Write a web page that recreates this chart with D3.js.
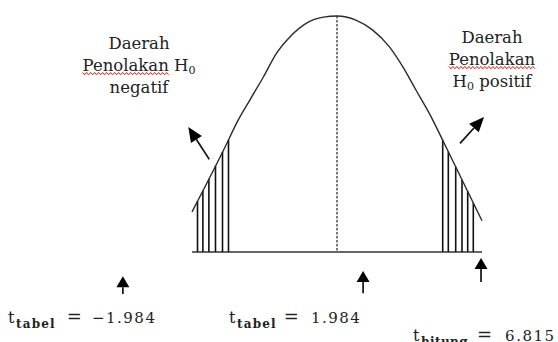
<!DOCTYPE html>
<html>
<head>
<meta charset="utf-8">
<script src="https://cdn.jsdelivr.net/npm/d3@7"></script>
<style>
  body { margin: 0; background: #fff; }
  svg { display: block; }
  text { font-family: "DejaVu Serif", "Liberation Serif", serif; fill: #222; }
</style>
</head>
<body>
<svg width="558" height="342"></svg>
<script>
// curve of the t sketch (t units, density)
var curveT = [-3.0, -2.28, -2.08, -1.80, -1.52, -1.25, -0.97, -0.63, -0.28, 0.0, 0.39, 0.74, 1.08, 1.36, 1.63, 1.91, 2.19, 3.0];
var curveD = [0.068, 0.184, 0.218, 0.258, 0.297, 0.337, 0.365, 0.388, 0.398, 0.400, 0.393, 0.376, 0.348, 0.314, 0.275, 0.235, 0.189, 0.053];

// hatching in the two rejection tails
var hatchLeft = [-2.886, -2.775, -2.651, -2.514, -2.369, -2.245];
var hatchRight = [2.187, 2.303, 2.456, 2.586, 2.704, 2.820];

// labels under the chart
var labelSubs = ['tabel', 'tabel', 'hitung'];
var labelValues = ['\u22121.984', '1.984', '6.815'];
// where the up arrows point (t units)
var markT = [-4.43, 0.54, 2.98];

var svg = d3.select('svg');
var x = d3.scaleLinear().domain([-3, 3]).range([192, 482]);
var y = d3.scaleLinear().domain([0, 0.4]).range([252, 16]);
// piecewise read-off of the curve, used for the hatch tops
var curveAt = d3.scaleLinear().domain(curveT).range(curveD);

// baseline
svg.append('line')
  .attr('x1', x(-3)).attr('x2', x(3))
  .attr('y1', y(0)).attr('y2', y(0))
  .attr('stroke', '#333').attr('stroke-width', 1.4);

// dashed centre line
svg.append('line')
  .attr('x1', x(0)).attr('x2', x(0))
  .attr('y1', y(0.4)).attr('y2', y(0))
  .attr('stroke', '#222').attr('stroke-width', 1.2)
  .attr('stroke-dasharray', '2.5,1.5');

// hatching
svg.selectAll('line.hatch')
  .data(hatchLeft.concat(hatchRight))
  .enter().append('line')
  .attr('class', 'hatch')
  .attr('x1', d => x(d)).attr('x2', d => x(d))
  .attr('y1', y(0)).attr('y2', d => y(curveAt(d)))
  .attr('stroke', '#111').attr('stroke-width', 1.6);

// curve
var line = d3.line()
  .x((d, i) => x(curveT[i]))
  .y(d => y(d))
  .curve(d3.curveMonotoneX);

svg.append('path')
  .attr('d', line(curveD))
  .attr('fill', 'none')
  .attr('stroke', '#2a2a2a').attr('stroke-width', 1.4);

// arrows: tail -> tip, in chart units
function arrow(t1, d1, t2, d2, len, wid) {
  var x1 = x(t1), y1 = y(d1), x2 = x(t2), y2 = y(d2);
  var dx = x2 - x1, dy = y2 - y1, n = Math.sqrt(dx * dx + dy * dy);
  var ux = dx / n, uy = dy / n;
  var bx = x2 - ux * len, by = y2 - uy * len;
  svg.append('line')
    .attr('x1', x1).attr('y1', y1).attr('x2', bx).attr('y2', by)
    .attr('stroke', '#111').attr('stroke-width', 1.7);
  svg.append('path')
    .attr('d', 'M' + x2 + ',' + y2 +
      'L' + (bx - uy * wid / 2) + ',' + (by + ux * wid / 2) +
      'L' + (bx + uy * wid / 2) + ',' + (by - ux * wid / 2) + 'Z')
    .attr('fill', '#000');
}

arrow(-2.642, 0.157, -3.077, 0.212, 15, 13);
arrow(2.545, 0.184, 3.042, 0.229, 15, 13);

var markTip = [-0.041, -0.032, -0.010];
var markTail = [-0.071, -0.070, -0.051];
markT.forEach(function(t, i) {
  arrow(t, markTail[i], t, markTip[i], 11, 13);
});

// red wavy spell-check underline
function squiggle(x1, x2, yy) {
  var pts = [];
  for (var px = x1, k = 0; px <= x2; px += 2, k++) pts.push([px, yy + (k % 2 ? 1.2 : -1.2)]);
  svg.append('path')
    .attr('d', d3.line()(pts))
    .attr('fill', 'none')
    .attr('stroke', '#e0201c').attr('stroke-width', 1);
}

// region captions
function caption(cx, y0, lines) {
  lines.forEach(function(l, i) {
    var row = svg.append('text')
      .attr('x', cx).attr('y', y0 + i * 21.8)
      .attr('text-anchor', 'middle')
      .style('font-size', '16.5px');
    l.forEach(function(part) {
      row.append('tspan')
        .text(part.s)
        .attr('dy', part.sub ? 3 : (part.back ? -3 : null))
        .style('font-size', part.sub ? '11px' : null);
    });
    if (l[0].s.indexOf('Penolakan') === 0) {
      var w = row.node().getSubStringLength(0, 9);
      var x0 = row.node().getStartPositionOfChar(0).x;
      squiggle(x0, x0 + w, y0 + i * 21.8 + 2.5);
    }
  });
}

caption(139, 49.3, [
  [{ s: 'Daerah' }],
  [{ s: 'Penolakan H' }, { s: '0', sub: true }],
  [{ s: 'negatif' }]
]);
caption(492, 43.3, [
  [{ s: 'Daerah' }],
  [{ s: 'Penolakan' }],
  [{ s: 'H' }, { s: '0', sub: true }, { s: ' positif', back: true }]
]);

// bottom labels t_sub = value
var labelX = [8, 229, 413];
var labelY = [323, 323, 341];
var gapEq = [11, 7, 9];
var gapVal = [10, 12, 13];

labelSubs.forEach(function(sub, i) {
  var txt = svg.append('text')
    .attr('x', labelX[i]).attr('y', labelY[i])
    .style('font-size', '16px');
  txt.append('tspan').text('t');
  txt.append('tspan').text(sub)
    .attr('dx', 1.5).attr('dy', 5)
    .style('font-size', '12px').style('font-weight', '600')
    .style('letter-spacing', sub === 'hitung' ? '0.4px' : '1.2px');
  txt.append('tspan').text('=')
    .attr('dx', gapEq[i]).attr('dy', -5)
    .style('font-size', '18px');
  txt.append('tspan').text(labelValues[i])
    .attr('dx', gapVal[i])
    .style('font-size', '15px').style('letter-spacing', '1.5px');
});
</script>
</body>
</html>
